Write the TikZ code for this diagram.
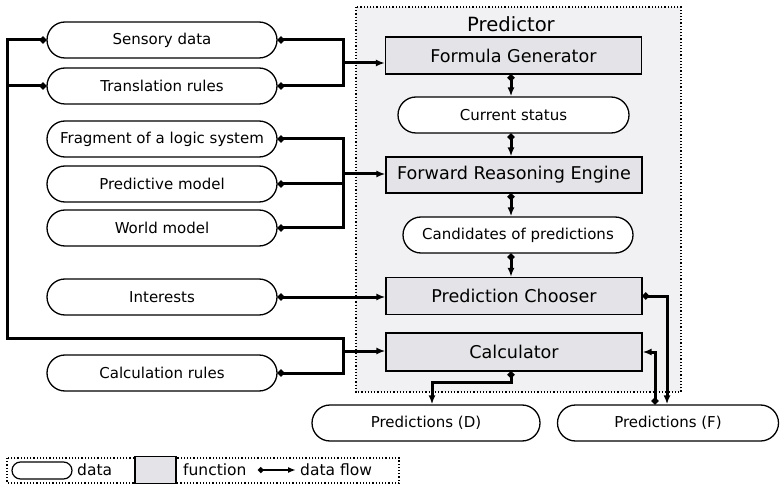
\documentclass[tikz,border=0pt]{standalone}
\usepackage{fontspec}
\setmainfont{DejaVu Sans}
\usetikzlibrary{shapes.misc,arrows.meta,calc}
\definecolor{funcfill}{HTML}{E4E4E8}
\definecolor{boxfill}{HTML}{F1F1F3}
\tikzset{
  datanode/.style={rounded rectangle, draw=black, line width=1.3pt, fill=white,
    minimum width=230pt, minimum height=36pt, inner sep=0pt,
    font=\fontsize{15}{17}\selectfont},
  funcnode/.style={rectangle, draw=black, line width=1.2pt, fill=funcfill,
    minimum width=256pt, minimum height=37pt, inner sep=0pt,
    font=\fontsize{17.6}{20}\selectfont},
  conn/.style={line width=3pt, line join=miter},
  dotstart/.style={{Circle[length=6.5pt]}-},
  arr/.style={-{Latex[length=9pt,width=7pt]}},
  dotarr/.style={{Circle[length=6.5pt]}-{Latex[length=9pt,width=7pt]}},
  legtext/.style={font=\fontsize{15.5}{18}\selectfont, anchor=west, inner sep=0pt}
}
\begin{document}
\begin{tikzpicture}[x=1pt,y=-1pt]
\useasboundingbox (0,0) rectangle (781,486);
% container
\draw[dotted, line width=1.2pt, fill=boxfill] (356,7) rectangle (681,392);
\node[font=\fontsize{19.6}{22}\selectfont] (title) at (511,24) {Predictor};
% left data nodes
\node[datanode] (sens) at (162,40) {Sensory data};
\node[datanode] (trans) at (162,86) {Translation rules};
\node[datanode] (frag) at (162,139) {Fragment of a logic system};
\node[datanode] (pred) at (162,184) {Predictive model};
\node[datanode] (world) at (162,228) {World model};
\node[datanode] (inter) at (162,297) {Interests};
\node[datanode] (calcr) at (162,373) {Calculation rules};
% predictor internals
\node[funcnode] (fg) at (513.5,55.5) {Formula Generator};
\node[datanode, minimum width=231pt] (cs) at (513.5,115) {Current status};
\node[funcnode, minimum height=36pt] (fre) at (514,175) {Forward Reasoning Engine};
\node[datanode] (cand) at (518,235) {Candidates of predictions};
\node[funcnode] (pc) at (514,296) {Prediction Chooser};
\node[funcnode, minimum height=38pt] (calc) at (514,352) {Calculator};
% outputs
\node[datanode, minimum width=228pt] (pd) at (426,423) {Predictions (D)};
\node[datanode, minimum width=221pt] (pf) at (668,423) {Predictions (F)};
% junctions
\coordinate (j1) at (343,63);
\coordinate (j2) at (343,174);
\coordinate (j3) at (343,351);
\coordinate (bl) at (7,338);
\coordinate (k1) at (432,382);
\coordinate (k2) at (667,300);
\coordinate (k3) at (655,400);
% inputs to formula generator
\draw[conn,dotstart] (sens.east) -| (j1);
\draw[conn,dotstart] (trans.east) -| (j1);
\draw[conn,arr] (j1) -- (j1 -| fg.west);
% inputs to forward reasoning engine
\draw[conn,dotstart] (frag.east) -| (j2);
\draw[conn,dotstart] (pred.east) -| (j2);
\draw[conn,dotstart] (world.east) -| (j2);
\draw[conn,arr] (j2) -- (j2 -| fre.west);
% interests
\draw[conn,dotarr] (inter.east) -- (inter.east -| pc.west);
% bus to calculator
\draw[conn,dotstart] (sens.west) -| (bl) -| (j3);
\draw[conn,dotstart] (trans.west) -- (trans.west -| bl);
\draw[conn,dotstart] (calcr.east) -| (j3);
\draw[conn,arr] (j3) -- (j3 -| calc.west);
% vertical chain
\draw[conn,dotarr] ($(fg.south)+(-2.5,0)$) -- ($(cs.north)+(-2.5,0)$);
\draw[conn,dotarr] ($(cs.south)+(-2.5,0)$) -- ($(fre.north)+(-3,0)$);
\draw[conn,dotarr] ($(fre.south)+(-3,0)$) -- ($(fre.south|-cand.north)+(-3,0)$);
\draw[conn,dotarr] ($(fre.south|-cand.south)+(-3,0)$) -- ($(fre.south|-pc.north)+(-3,0)$);
% outputs
\draw[conn,dotarr] ($(calc.south)+(-3,0)$) |- (k1) -- (k1 |- pd.north);
\draw[conn,dotarr] (pc.east) -| (k2 |- pf.north);
\draw[conn,dotarr] (k3 |- pf.north) |- (calc.east);
% legend
\draw[dotted, line width=1.2pt] (7,458) rectangle (399,483);
\node[rounded rectangle, draw=black, line width=1.2pt, minimum width=60pt, minimum height=17pt, inner sep=0pt] (legdata) at (42,470.5) {};
\node[legtext] (legdatat) at (77,470) {data};
\node[rectangle, draw=black, line width=1.2pt, fill=funcfill, minimum width=41pt, minimum height=27pt, inner sep=0pt] (legfunc) at (155.5,470) {};
\node[legtext] (legfunct) at (183,470) {function};
\coordinate (la) at (258,470);
\node[legtext] (legflowt) at (300,470) {data flow};
\draw[line width=2.4pt, {Circle[length=5.5pt]}-{Latex[length=8pt,width=6pt]}] (la) -- ($(legflowt.west)+(-4,0)$);
\end{tikzpicture}
\end{document}
